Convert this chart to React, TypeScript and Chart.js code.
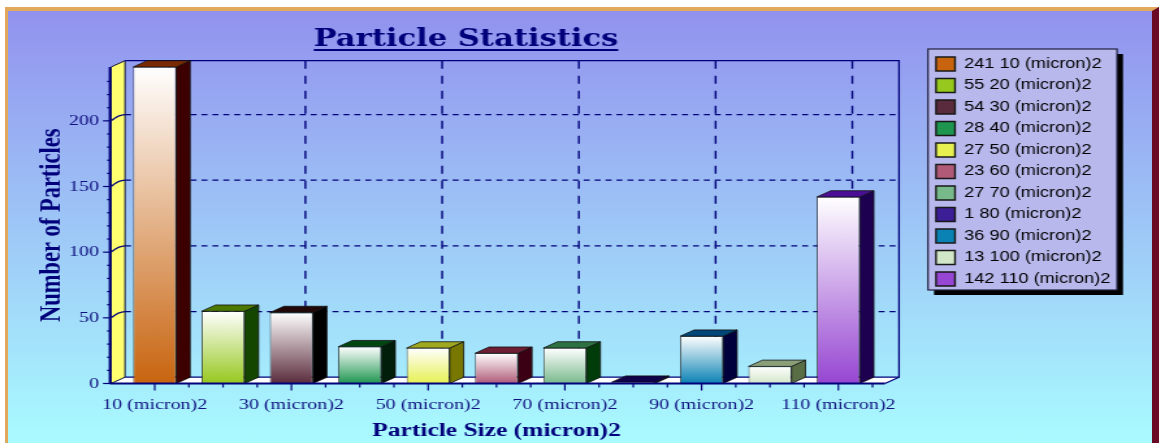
import React, { useEffect, useRef } from "react";
import { Chart, registerables } from "chart.js";

Chart.register(...registerables);

const categories = ["10 (micron)2", "20 (micron)2", "30 (micron)2", "40 (micron)2", "50 (micron)2", "60 (micron)2", "70 (micron)2", "80 (micron)2", "90 (micron)2", "100 (micron)2", "110 (micron)2"];
const particleCounts = [241, 55, 54, 28, 27, 23, 27, 1, 36, 13, 142];
const baseColors = ["#c8640f", "#96c81e", "#5a2b3c", "#1e9650", "#e6f050", "#b05a78", "#78b98c", "#3c1e96", "#0a82b4", "#d2e6c8", "#9646d2"];
const sideColors = ["#3c0000", "#144600", "#000000", "#001e0a", "#787800", "#3c0014", "#003c0a", "#00003c", "#00003c", "#5a6e46", "#1e0050"];
const topColors = ["#7a2a00", "#4a7800", "#200808", "#004610", "#a0a820", "#6e1e32", "#2d7041", "#10004a", "#004678", "#8a9e78", "#4b0f96"];

const WIDTH = 896;
const HEIGHT = 443;
const SX = 1165 / WIDTH;
const NAVY = "#00007a";
const TICK_TEXT = "#10107f";

const px = (x: number) => x / SX;

const scene3d = {
  id: "scene3d",
  afterLayout(chart: any) {
    if (chart.legend) {
      const w = chart.legend.width;
      const h = chart.legend.height;
      chart.legend.left = px(926.25);
      chart.legend.right = chart.legend.left + w;
      chart.legend.top = 49.5;
      chart.legend.bottom = 49.5 + h;
    }
    if (chart.titleBlock) {
      chart.titleBlock.left = 0;
      chart.titleBlock.right = px(932);
    }
  },
  beforeDraw(chart: any) {
    const { ctx, chartArea, scales } = chart;
    const { x: xs, y: ys } = scales;
    const dx = px(14);
    const dy = 6.3;
    const L = chartArea.left - px(9.5);
    const R = chartArea.right + px(12.5);
    const T = chartArea.top;
    const B = chartArea.bottom;
    ctx.save();

    // legend panel
    const lx = px(928);
    const ly = 49;
    const lw = px(189);
    const lh = 241;
    ctx.fillStyle = "#000";
    ctx.fillRect(lx + px(6), ly + 5, lw, lh);
    ctx.fillStyle = "#b8b8ec";
    ctx.fillRect(lx, ly, lw, lh);
    ctx.strokeStyle = "#202040";
    ctx.lineWidth = 1.2;
    ctx.strokeRect(lx, ly, lw, lh);

    // floor
    ctx.fillStyle = "#ffffff";
    ctx.beginPath();
    ctx.moveTo(L, B);
    ctx.lineTo(L + dx, B - dy);
    ctx.lineTo(R + dx, B - dy);
    ctx.lineTo(R, B);
    ctx.closePath();
    ctx.fill();

    // left wall
    ctx.fillStyle = "#ffff70";
    ctx.beginPath();
    ctx.moveTo(L, T);
    ctx.lineTo(L + dx, T - dy);
    ctx.lineTo(L + dx, B - dy);
    ctx.lineTo(L, B);
    ctx.closePath();
    ctx.fill();
    ctx.strokeStyle = "#101030";
    ctx.lineWidth = 1;
    ctx.stroke();

    // back frame
    ctx.strokeStyle = NAVY;
    ctx.lineWidth = 1.3;
    ctx.beginPath();
    ctx.moveTo(L + dx, T - dy);
    ctx.lineTo(R + dx, T - dy);
    ctx.lineTo(R + dx, B - dy);
    ctx.lineTo(R, B);
    ctx.stroke();
    ctx.beginPath();
    ctx.moveTo(L + dx, B - dy);
    ctx.lineTo(R + dx, B - dy);
    ctx.stroke();

    // horizontal grid
    ys.ticks.forEach((t: any) => {
      if (t.value % 50 !== 0 || t.value === 0) return;
      const y = ys.getPixelForValue(t.value);
      ctx.setLineDash([]);
      ctx.lineWidth = 1.2;
      ctx.beginPath();
      ctx.moveTo(L, y);
      ctx.quadraticCurveTo(L + dx * 0.55, y - dy, L + dx, y - dy);
      ctx.stroke();
      ctx.setLineDash([4.6, 3.8]);
      ctx.beginPath();
      ctx.moveTo(L + dx, y - dy);
      ctx.lineTo(R + dx, y - dy);
      ctx.stroke();
    });
    // vertical grid
    xs.ticks.forEach((_: any, i: number) => {
      if (i % 2 !== 0) return;
      const x = xs.getPixelForTick(i) + dx;
      ctx.setLineDash([8, 7]);
      ctx.lineWidth = 1.4;
      ctx.beginPath();
      ctx.moveTo(x, T - dy);
      ctx.lineTo(x, B - dy);
      ctx.stroke();
    });
    ctx.restore();
  },
  beforeDatasetsDraw(chart: any) {
    const { ctx } = chart;
    const dx = px(14);
    const dy = 6.3;
    const bars = chart.getDatasetMeta(0).data;
    ctx.save();
    ctx.strokeStyle = "#101010";
    ctx.lineWidth = 0.8;
    bars.forEach((b: any, i: number) => {
      const l = b.x - b.width / 2;
      const r = b.x + b.width / 2;
      const top = b.y;
      const base = b.base;
      ctx.fillStyle = sideColors[i];
      ctx.beginPath();
      ctx.moveTo(r, top);
      ctx.lineTo(r + dx, top - dy);
      ctx.lineTo(r + dx, base - dy);
      ctx.lineTo(r, base);
      ctx.closePath();
      ctx.fill();
      ctx.stroke();
      ctx.fillStyle = topColors[i];
      ctx.beginPath();
      ctx.moveTo(l, top);
      ctx.lineTo(l + dx, top - dy);
      ctx.lineTo(r + dx, top - dy);
      ctx.lineTo(r, top);
      ctx.closePath();
      ctx.fill();
      ctx.stroke();
    });
    ctx.restore();
  },
  afterDatasetsDraw(chart: any) {
    const { ctx, chartArea, scales } = chart;
    const { x: xs, y: ys } = scales;
    const L = chartArea.left - px(9.5);
    const R = chartArea.right + px(12.5);
    const T = chartArea.top;
    const B = chartArea.bottom;
    ctx.save();
    ctx.strokeStyle = NAVY;
    // axes
    ctx.lineWidth = 2;
    ctx.beginPath();
    ctx.moveTo(L - px(1), B);
    ctx.lineTo(R, B);
    ctx.stroke();
    ctx.beginPath();
    ctx.moveTo(L - px(1), T);
    ctx.lineTo(L - px(1), B);
    ctx.stroke();
    // y ticks
    ctx.lineWidth = 1.2;
    ys.ticks.forEach((t: any) => {
      if (t.value % 10 !== 0) return;
      const y = ys.getPixelForValue(t.value);
      const len = t.value % 50 === 0 ? px(7) : px(3);
      ctx.beginPath();
      ctx.moveTo(L - px(1) - len, y);
      ctx.lineTo(L, y);
      ctx.stroke();
    });
    // x ticks at centres and separators
    xs.ticks.forEach((_: any, i: number) => {
      const c = xs.getPixelForTick(i);
      const half = xs.width / xs.ticks.length / 2;
      ctx.beginPath();
      ctx.moveTo(c, B);
      ctx.lineTo(c, B + (i % 2 === 0 ? 7 : 4));
      ctx.moveTo(c + half, B);
      ctx.lineTo(c + half, B + 4);
      ctx.stroke();
    });
    ctx.restore();
  },
  afterDraw(chart: any) {
    const { ctx } = chart;
    const tb = chart.titleBlock;
    const opts = chart.options.plugins.title;
    ctx.save();
    ctx.font = `bold ${opts.font.size}px ${opts.font.family}`;
    const w = ctx.measureText(opts.text).width;
    const c = (tb.left + tb.right) / 2;
    ctx.strokeStyle = NAVY;
    ctx.lineWidth = 1.8;
    ctx.beginPath();
    ctx.moveTo(c - w / 2, 50);
    ctx.lineTo(c + w / 2, 50);
    ctx.stroke();
    ctx.restore();
  },
};

export default function App() {
  const ref = useRef<HTMLCanvasElement | null>(null);
  useEffect(() => {
    if (!ref.current) return;
    const serif = '"Liberation Serif", serif';
    const chart = new Chart(ref.current, {
      type: "bar",
      data: {
        labels: categories,
        datasets: [
          {
            label: "Number of Particles",
            data: particleCounts,
            barPercentage: 0.629,
            categoryPercentage: 1,
            borderColor: "#202020",
            borderWidth: 0.8,
            backgroundColor: (c: any) => {
              const ch = c.chart;
              const i = c.dataIndex;
              if (!ch.scales.y || i === undefined) return baseColors[i ?? 0];
              const g = ch.ctx.createLinearGradient(0, ch.scales.y.getPixelForValue(particleCounts[i]), 0, ch.scales.y.getPixelForValue(0));
              g.addColorStop(0, "#ffffff");
              g.addColorStop(1, baseColors[i]);
              return g;
            },
          },
        ],
      },
      options: {
        animation: false,
        responsive: false,
        devicePixelRatio: 1,
        layout: { padding: { left: 0, top: 0, bottom: 0, right: WIDTH - px(872.5) } },
        plugins: {
          tooltip: { enabled: false },
          title: {
            display: true,
            text: "Particle Statistics",
            color: NAVY,
            font: { family: '"DejaVu Serif", serif', size: 23.5, weight: "bold" },
            padding: { top: 25.8, bottom: 13 },
          },
          legend: {
            position: "chartArea",
            align: "start",
            labels: {
              boxWidth: px(19),
              boxHeight: 14,
              padding: 7.5,
              color: "#15152a",
              font: { family: '"Liberation Sans", sans-serif', size: 14 },
              generateLabels: () =>
                categories.map((cat, i) => ({
                  text: `${particleCounts[i]} ${cat}`,
                  fillStyle: baseColors[i],
                  strokeStyle: "#181818",
                  lineWidth: 1.4,
                  hidden: false,
                  index: i,
                })),
            },
          },
        },
        scales: {
          x: {
            offset: true,
            afterFit: (s: any) => {
              s.height = 59.5;
            },
            grid: { display: false, drawTicks: false },
            border: { display: false },
            ticks: {
              autoSkip: false,
              maxRotation: 0,
              minRotation: 0,
              padding: 12.5,
              color: TICK_TEXT,
              font: { family: serif, size: 15.4 },
              callback: (_: any, i: number) => (i % 2 === 0 ? categories[i] : ""),
            },
            title: {
              display: true,
              text: "Particle Size (micron)2",
              color: NAVY,
              font: { family: serif, size: 19.6, weight: "bold" },
              padding: { top: 7, bottom: 0 },
            },
          },
          y: {
            min: 0,
            max: 241,
            afterFit: (s: any) => {
              s.width = px(120.5);
            },
            grid: { display: false, drawTicks: false },
            border: { display: false },
            ticks: {
              stepSize: 10,
              autoSkip: false,
              padding: px(21.5),
              color: TICK_TEXT,
              font: { family: serif, size: 15.4 },
              callback: (v: any) => (Number(v) % 50 === 0 ? String(v) : ""),
            },
            title: {
              display: true,
              text: "Number of Particles",
              color: NAVY,
              font: { family: serif, size: 22.5, weight: "bold" },
              padding: { top: 26.5, bottom: 0 },
            },
          },
        },
      },
      plugins: [scene3d],
    } as any);
    return () => chart.destroy();
  }, []);

  return (
    <div style={{ position: "absolute", left: 0, top: 0, width: 1165, height: HEIGHT, overflow: "hidden", background: "#fff" }}>
      <div
        style={{
          position: "absolute",
          left: 5,
          top: 7,
          width: 1144,
          height: 436,
          boxSizing: "content-box",
          borderTop: "4px solid #e2a85c",
          borderLeft: "3px solid #e2a85c",
          borderRight: "7px solid #6b0a25",
          background: "linear-gradient(#9292ee, #a9fcff)",
        }}
      />
      <canvas
        ref={ref}
        width={WIDTH}
        height={HEIGHT}
        style={{ position: "absolute", left: 0, top: 0, transformOrigin: "0 0", transform: `scaleX(${SX})` }}
      />
    </div>
  );
}
